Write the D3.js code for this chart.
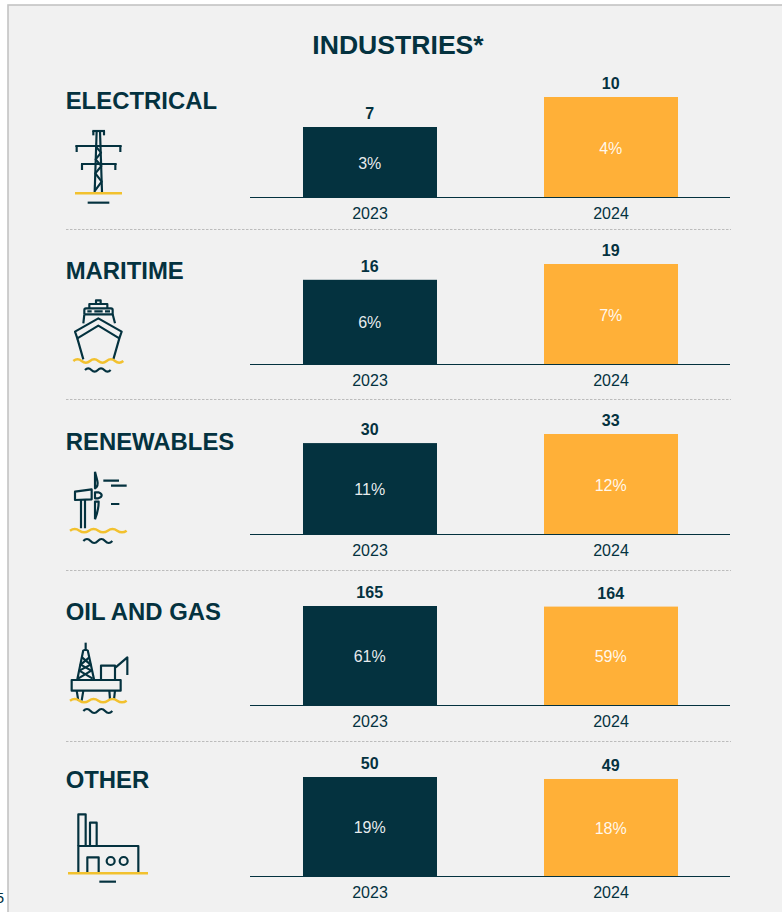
<!DOCTYPE html>
<html><head><meta charset="utf-8">
<script src="https://cdn.jsdelivr.net/npm/d3@7/dist/d3.min.js"></script>
<style>html,body{margin:0;padding:0;background:#fff;overflow:hidden}svg{display:block}text{font-family:"Liberation Sans",Arial,sans-serif}</style>
</head><body><svg id="c" width="782" height="912"></svg>
<script>
const years = ["2023", "2024"];
const categories = ["ELECTRICAL", "MARITIME", "RENEWABLES", "OIL AND GAS", "OTHER"];
const values2023 = [7, 16, 30, 165, 50];
const values2024 = [10, 19, 33, 164, 49];
const shares2023 = ["3%", "6%", "11%", "61%", "19%"];
const shares2024 = ["4%", "7%", "12%", "59%", "18%"];
const pageNumber = "5";

const DARK = "#04323f", ORANGE = "#ffb038", YELLOW = "#f2c12e";
const axisY = [197, 364, 534, 705, 876];
const panelH = [100, 100, 100, 99, 99];
const labelY = [109, 279, 450, 620, 788];
const dividerY = [229.5, 399.5, 570.5, 741.5];

const svg = d3.select("#c");
svg.append("rect").attr("x", 8).attr("y", 5).attr("width", 790).attr("height", 920)
  .attr("fill", "#f1f1f1").attr("stroke", "#c4c4c4").attr("stroke-width", 1.6);
svg.append("text").attr("x", 0).attr("y", 903).attr("font-size", 15).attr("fill", DARK)
  .attr("text-anchor", "end").attr("dx", 4).text(pageNumber);
svg.append("text").attr("x", 398).attr("y", 54).attr("text-anchor", "middle")
  .attr("font-size", 26.6).attr("font-weight", 700).attr("fill", DARK).text("INDUSTRIES*");

const x = d3.scaleBand().domain(years).range([250, 731]).paddingInner(0.444).paddingOuter(0.2199);

categories.forEach((cat, i) => {
  const vals = [values2023[i], values2024[i]];
  const shares = [shares2023[i], shares2024[i]];
  const y = d3.scaleLinear().domain([0, d3.max(vals)]).range([axisY[i], axisY[i] - panelH[i]]);
  const g = svg.append("g");
  g.append("text").attr("x", 65.7).attr("y", labelY[i]).attr("font-size", 23.9)
    .attr("font-weight", 700).attr("fill", DARK).text(cat);

  g.selectAll("rect.bar").data(vals).join("rect").attr("class", "bar")
    .attr("x", (d, j) => x(years[j])).attr("width", x.bandwidth())
    .attr("y", d => y(d)).attr("height", d => y(0) - y(d))
    .attr("fill", (d, j) => j ? ORANGE : DARK);
  g.selectAll("text.val").data(vals).join("text").attr("class", "val")
    .attr("x", (d, j) => x(years[j]) + x.bandwidth() / 2 - 0.3).attr("y", d => y(d) - 8)
    .attr("text-anchor", "middle").attr("font-size", 16).attr("font-weight", 700)
    .attr("fill", DARK).text(d => d);
  g.selectAll("text.pct").data(vals).join("text").attr("class", "pct")
    .attr("x", (d, j) => x(years[j]) + x.bandwidth() / 2 - 0.3).attr("y", d => (y(d) + y(0)) / 2 + 6.5)
    .attr("text-anchor", "middle").attr("font-size", 16).attr("fill", "#fff").attr("fill-opacity", 0.92)
    .text((d, j) => shares[j]);

  const axis = g.append("g").attr("transform", `translate(0,${axisY[i]})`)
    .call(d3.axisBottom(x).tickSize(0).tickPadding(10.5));
  axis.select(".domain").attr("stroke", DARK).attr("stroke-width", 1).attr("d", "M250,0.5H730");
  axis.selectAll("text").attr("font-size", 16).attr("fill", DARK)
    .style("font-family", '"Liberation Sans",Arial,sans-serif');
});

svg.selectAll("line.div").data(dividerY).join("line").attr("class", "div")
  .attr("x1", 66).attr("x2", 731).attr("y1", d => d).attr("y2", d => d)
  .attr("stroke", "#bcbcbc").attr("stroke-width", 1).attr("stroke-dasharray", "2.5 1.5");

// Pictograms, sketched in 3x crop coordinates
function icon(ox, oy, darkPaths, yellowPaths) {
  const g = svg.append("g").attr("transform", `translate(${ox},${oy}) scale(${1/3})`)
    .attr("fill", "none").attr("stroke-linejoin", "round");
  g.selectAll("path.d").data(darkPaths).join("path").attr("d", d => d)
    .attr("stroke", DARK).attr("stroke-width", 6.5);
  g.selectAll("path.y").data(yellowPaths).join("path").attr("d", d => d)
    .attr("stroke", YELLOW).attr("stroke-width", 7.5);
}
function wave(x0, x1, yy, n, a = 7) {
  const s = (x1 - x0) / n; let p = `M${x0},${yy}`;
  for (let k = 0; k < n; k++) {
    const sign = k % 2 ? 1 : -1;
    p += `Q${x0 + s * k + s / 2},${yy + sign * a * 2} ${x0 + s * (k + 1)},${yy}`;
  }
  return p;
}
icon(0, 0, [
  "M277,393H315", "M280,393V406", "M312,393V406",
  "M290,393L284,576", "M300,393L306,576",
  "M226,438H365", "M230,438V456", "M361,438V456",
  "M243,492H350", "M246,492V510", "M346,492V510",
  "M288,440L303,458L287,478L304,498L286,520L305,545L285,572",
  "M263,608H328"
], ["M225,580H366"]);
icon(50, 280, [
  "M138,72V61H152V72", "M118,85V72H172V85",
  "M103,103V90Q103,85 108,85H183Q188,85 188,90V103H103",
  "M112,94H125M133,94H158M165,94H180",
  "M103,103L100,130M188,103L195,130",
  "M75,155L145,115L215,155L208,175L145,137L82,175Z",
  "M82,175L100,238M208,175L190,238",
  wave(105, 182, 270, 4, 5)
], [wave(70, 220, 243, 6, 5)]);
icon(50, 460, [
  "M135,35V85Q146,78 142,62L135,35", "M135,97H145Q155,100 155,106Q155,112 145,115H135Z",
  "M135,178V125H146Q146,150 135,178",
  "M75,95L125,88V118L75,120Z", "M93,120V205M105,120V205",
  "M160,62H207M183,77H230M183,132H208",
  wave(100, 187, 243, 4, 6)
], [wave(60, 230, 212, 6, 5)]);
icon(50, 630, [
  "M107,38V60", "M100,60L82,148M113,60L132,148M100,60H113",
  "M96,82L122,104L88,122L128,146M118,82L92,104L124,122L84,146",
  "M65,150H212V182H65Z",
  "M153,150V107H195V150", "M197,112L232,82V135",
  "M80,182L85,212M100,182L95,212M178,182L180,208M195,182L192,208",
  wave(100, 187, 243, 4, 6)
], [wave(60, 230, 212, 6, 5)]);
icon(0, 800, [
  "M235,138V43H257V138", "M270,138V68H290V138",
  "M235,218V138H415V218", "M262,218V172H296V218",
  "M320,183a12,12 0 1,0 24,0a12,12 0 1,0 -24,0", "M359,183a12,12 0 1,0 24,0a12,12 0 1,0 -24,0",
  "M298,245H348"
], ["M204,220H444"]);
</script></body></html>
